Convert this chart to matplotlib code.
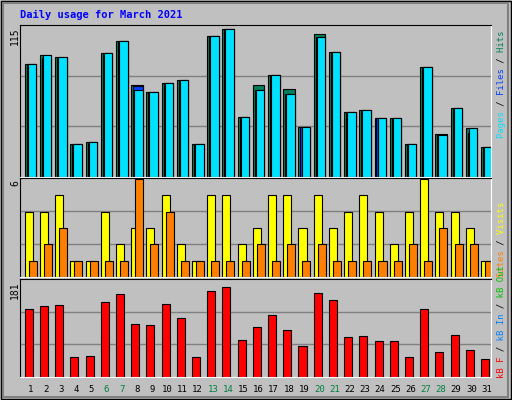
import matplotlib.pyplot as plt
from matplotlib.patches import Rectangle

days = list(range(1, 32))
hits = [85.8, 92.6, 91, 24.7, 26.2, 94.2, 103.3, 69.7, 64.4, 71.3, 73.6, 24.7, 107.1, 112.5, 45.3,
        69.5, 77.4, 66.5, 37.7, 108.5, 94.9, 49.1, 50.7, 44.6, 44.6, 24.7, 83.5, 32.5, 52.2, 37.2, 22.4]
files = [85.8, 90.5, 90.5, 24.7, 26.2, 94.2, 103.3, 68.7, 64.4, 71.3, 73.6, 24.7, 107.1, 112.5, 45.3,
         65.9, 77.4, 62.9, 37.7, 106.4, 94.9, 49.1, 50.7, 44.6, 44.6, 24.7, 83.5, 31.6, 52.2, 33.4, 22.4]
pages = [85.8, 92.6, 91, 24.7, 26.2, 94.2, 103.3, 65.9, 64.4, 71.3, 73.6, 24.7, 107.1, 112.5, 45.3,
         65.9, 77.4, 62.9, 37.7, 106.4, 94.9, 49.1, 50.7, 44.6, 44.6, 24.7, 83.5, 31.6, 52.2, 36.9, 22.4]
visits = [4, 4, 5, 1, 1, 4, 2, 3, 3, 5, 2, 1, 5, 5, 2, 3, 5, 5, 3, 5, 3, 4, 5, 4, 2, 4, 6, 4, 4, 3, 1]
sites = [1, 2, 3, 1, 1, 1, 1, 6, 2, 4, 1, 1, 1, 1, 1, 2, 1, 2, 1, 2, 1, 1, 1, 1, 1, 2, 1, 3, 2, 2, 1]
kbytes = [131.5, 137, 139, 38, 40, 145, 160, 101, 99, 141, 114, 38, 166, 173, 70.5, 97, 120, 91, 59,
          162, 147, 76, 78, 69, 69, 38, 130, 48, 80, 51, 34]
weekends = [6, 7, 13, 14, 20, 21, 27, 28]
max_hits, max_visits, max_kb = 115, 6, 181

W, H = 512, 400
BG = "#C0C0C0"
fig = plt.figure(figsize=(W / 100, H / 100), dpi=100, facecolor=BG)
mono = "DejaVu Sans Mono"


def px_axes(x0, y0, x1, y1):
    return fig.add_axes([x0 / W, 1 - y1 / H, (x1 - x0) / W, (y1 - y0) / H])


def style(ax, top):
    ax.set_facecolor(BG)
    ax.set_xlim(0.39, 31.36)
    ax.set_ylim(0, top)
    ax.set_xticks([])
    ax.set_yticks([])
    for y in (top / 3, top * 2 / 3):
        ax.axhline(y, color="#808080", lw=1, zorder=0)
    ax.spines["left"].set_color("black")
    ax.spines["top"].set_color("black")
    ax.spines["right"].set_color("white")
    ax.spines["bottom"].set_color("white")


# outer frame
fig.patches.append(Rectangle((0.001, 0.002), 0.997, 0.996, transform=fig.transFigure,
                             fill=False, ec="black", lw=1))
fig.patches.append(Rectangle((0.006, 0.008), 0.986, 0.985, transform=fig.transFigure,
                             fill=False, ec="#808080", lw=1.5))

ax1 = px_axes(20, 25, 491, 177)
style(ax1, max_hits * 1.002)
for d, h, f, p in zip(days, hits, files, pages):
    ax1.bar(d - 0.3, h, width=0.76, align="edge", color="#00805C", ec="black", lw=0.8)
    ax1.bar(d - 0.17, f, width=0.63, align="edge", color="#0040FF", ec="black", lw=0.8)
    ax1.bar(d - 0.1, p, width=0.56, align="edge", color="#00E0FF", ec="black", lw=0.8)

ax2 = px_axes(20, 178, 491, 277)
style(ax2, max_visits * 1.01)
ax2.bar([d - 0.3 for d in days], visits, width=0.53, align="edge", color="#FFFF00", ec="black", lw=0.8)
ax2.bar([d - 0.04 for d in days], sites, width=0.53, align="edge", color="#FF8000", ec="black", lw=0.8)

ax3 = px_axes(20, 279, 491, 377)
style(ax3, max_kb * 1.04)
ax3.bar([d - 0.3 for d in days], kbytes, width=0.53, align="edge", color="#FF0000", ec="black", lw=0.8)

# title
fig.text(20 / W, 1 - 15 / H, "Daily usage for March 2021", color="#0000FF", family=mono,
         fontweight="bold", fontsize=7.5, va="center")

# left max labels
for txt, ytop in (("115", 27), ("6", 180), ("181", 281)):
    fig.text(15 / W, 1 - ytop / H, txt, rotation=90, family=mono, fontsize=7, va="top", ha="center")

# day labels
for d in days:
    x = 20 + (d - 0.39 + 0.08) * 15.2
    fig.text(x / W, 1 - 389 / H, str(d), color="#008040" if d in weekends else "black",
             family=mono, fontsize=6.5, ha="center", va="center")


def right_label(parts, ybottom):
    full = "".join(t for t, _ in parts)
    pos = 0
    for txt, col in parts:
        masked = " " * pos + txt + " " * (len(full) - pos - len(txt))
        fig.text(501 / W, 1 - ybottom / H, masked, rotation=90, color=col, family=mono,
                 fontsize=6.4, ha="center", va="bottom")
        pos += len(txt)


right_label([("Pages", "#00E0FF"), (" / ", "black"), ("Files", "#0040FF"), (" / ", "black"),
             ("Hits", "#00805C")], 138)
right_label([("Sites", "#FF8000"), (" / ", "black"), ("Visits", "#FFFF00")], 277)
right_label([("kB F", "#FF0000"), (" / ", "black"), ("kB In", "#0080FF"), (" / ", "black"),
             ("kB Out", "#00C000")], 378)

fig.savefig("out.png", dpi=100, facecolor=BG)
